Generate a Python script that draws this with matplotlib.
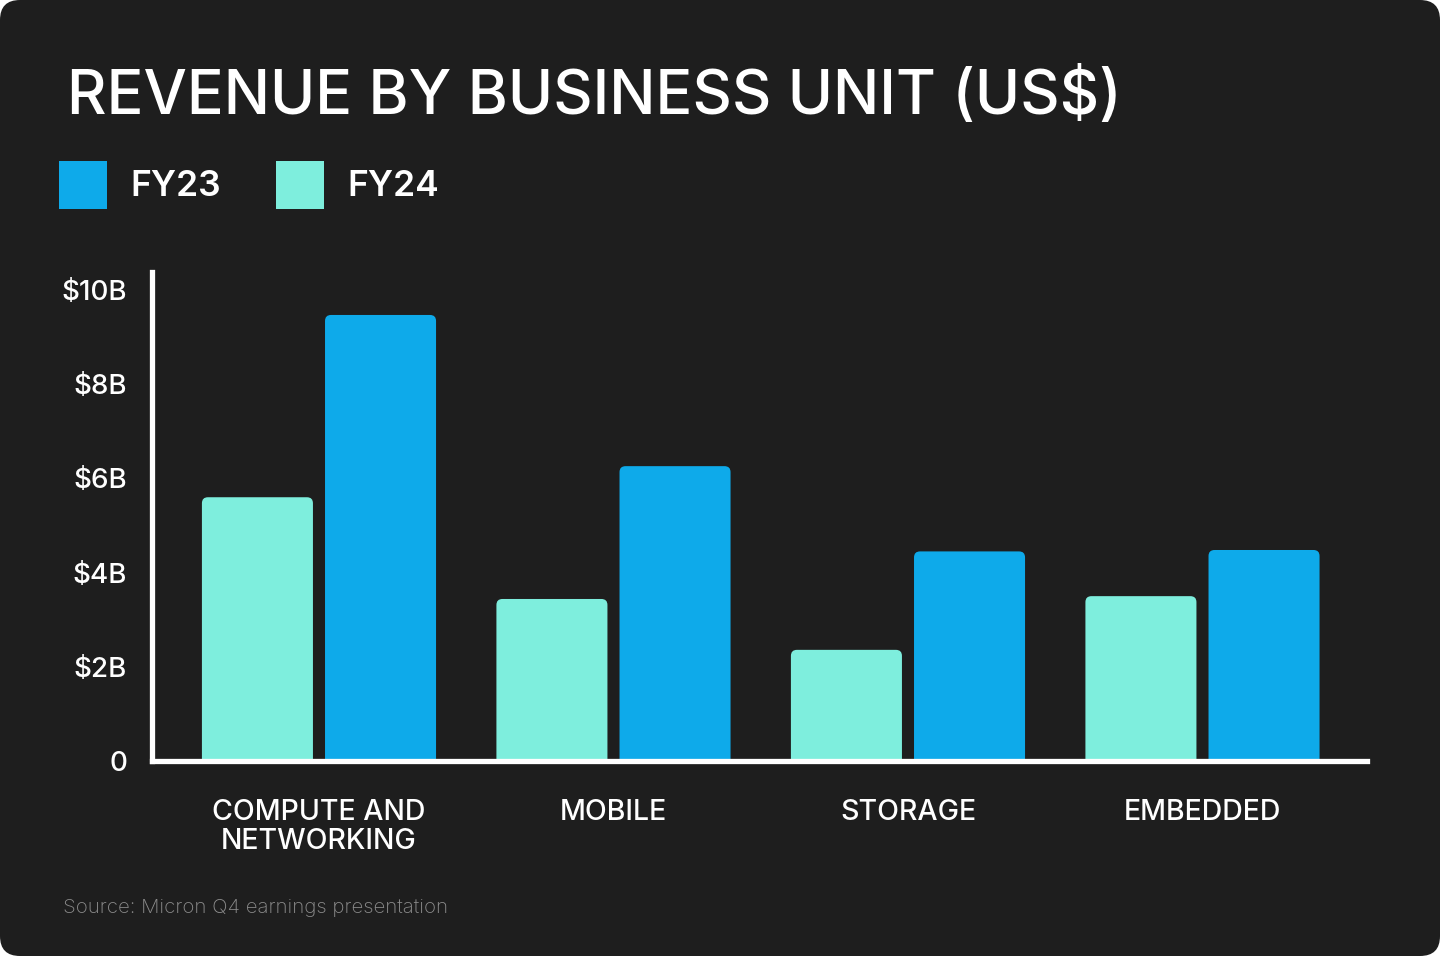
import matplotlib.pyplot as plt
from matplotlib.patches import FancyBboxPatch, Rectangle
import numpy as np

# Revenue by business unit, $B
categories = ['COMPUTE AND\nNETWORKING', 'MOBILE', 'STORAGE', 'EMBEDDED']
fy24 = [5.6, 3.44, 2.36, 3.5]    # left (mint) bars
fy23 = [9.47, 6.26, 4.45, 4.48]  # right (blue) bars
y_ticks = [0, 2, 4, 6, 8, 10]
y_tick_labels = ['0', '$2B', '$4B', '$6B', '$8B', '$10B']

BG = '#1e1e1e'
BLUE = '#0eaaea'
MINT = '#7eeedd'
W, H = 1440, 956

plt.rcParams['font.family'] = ['Inter', 'DejaVu Sans']

fig = plt.figure(figsize=(W / 100, H / 100), dpi=100, facecolor='white')

# background card with rounded corners, pixel coordinates
bg = fig.add_axes([0, 0, 1, 1])
bg.set_xlim(0, W)
bg.set_ylim(H, 0)
bg.axis('off')
bg.add_patch(FancyBboxPatch((0, 0), W, H, boxstyle='round,pad=0,rounding_size=20',
                            facecolor=BG, edgecolor='none'))

bg.text(67, 114, 'REVENUE BY BUSINESS UNIT (US$)', color='white', fontsize=44.1,
        fontweight='medium', va='baseline', ha='left')

# legend
bg.add_patch(Rectangle((59, 161), 48, 48, facecolor=BLUE, edgecolor='none'))
bg.text(130, 196, 'FY23', color='white', fontsize=25.5, fontweight='semibold', va='baseline')
bg.add_patch(Rectangle((276, 161), 48, 48, facecolor=MINT, edgecolor='none'))
bg.text(347, 196, 'FY24', color='white', fontsize=25.5, fontweight='semibold', va='baseline')

bg.text(63, 913, 'Source: Micron Q4 earnings presentation', color='#8c8c8c',
        fontsize=14.7, fontweight='light', va='baseline')

# main chart
x0, x1, y0, y1 = 152, 1367, 761, 272
ax = fig.add_axes([x0 / W, (H - y0) / H, (x1 - x0) / W, (y0 - y1) / H])
ax.set_facecolor('none')

x = np.arange(len(categories))
bw = 0.377
off = 0.209
ymax = (y0 - y1) / 47.1
ax.set_xlim(-0.567, -0.567 + (x1 - x0) / 294.5)
ax.set_ylim(0, ymax)

px_x = 1 / 294.5
px_y = 1 / 47.1
r = 6 * px_x
aspect = px_y / px_x
for xs, vals, col in [(x - off, fy24, MINT), (x + off, fy23, BLUE)]:
    for xi, v in zip(xs, vals):
        ax.add_patch(FancyBboxPatch((xi - bw / 2, -0.3), bw, v + 0.3,
                                    boxstyle=f'round,pad=0,rounding_size={r}',
                                    mutation_aspect=aspect,
                                    facecolor=col, edgecolor='none'))

for s in ['top', 'right']:
    ax.spines[s].set_visible(False)
for s in ['left', 'bottom']:
    ax.spines[s].set_color('white')
    ax.spines[s].set_linewidth(3.8)
    ax.spines[s].set_zorder(5)

ax.set_yticks(y_ticks)
ax.set_yticklabels(y_tick_labels)
ax.set_xticks(x)
ax.set_xticklabels(categories, linespacing=1.12)
ax.tick_params(axis='y', length=0, pad=18, labelsize=20, labelcolor='white')
ax.tick_params(axis='x', length=0, pad=27, labelsize=20.5, labelcolor='white')
for t in ax.get_xticklabels():
    t.set_fontweight('medium')
for t in ax.get_yticklabels():
    t.set_fontweight('medium')

fig.savefig('out.png', dpi=100, facecolor='white')
